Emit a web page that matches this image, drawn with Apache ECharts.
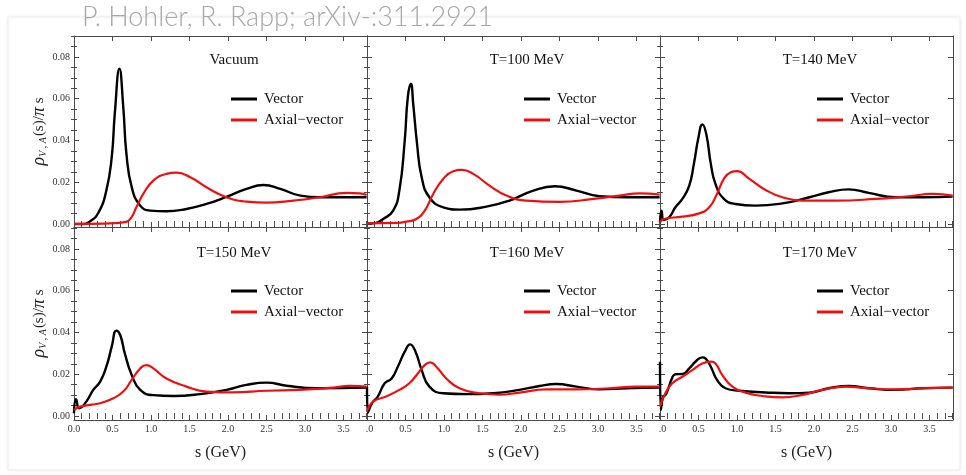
<!DOCTYPE html>
<html><head><meta charset="utf-8">
<script src="https://cdn.jsdelivr.net/npm/echarts@6/dist/echarts.min.js"></script>
<style>html,body{margin:0;padding:0;background:#fff}#c{width:966px;height:475px}</style>
</head><body><div id="c"></div>
<script>
// ---- data: s (GeV) sample positions and spectral values rho/(pi s) ----
const PANEL_TITLES = ['Vacuum', 'T=100 MeV', 'T=140 MeV', 'T=150 MeV', 'T=160 MeV', 'T=170 MeV'];
const SERIES_NAMES = ['Vector', 'Axial\u2212vector'];
const X_TICKS = [0, 0.5, 1.0, 1.5, 2.0, 2.5, 3.0, 3.5];
const Y_TICKS = [0, 0.02, 0.04, 0.06, 0.08];

const S_VAC_V = [0, 0.1, 0.21, 0.32, 0.42, 0.49, 0.53, 0.59, 0.64, 0.68, 0.75, 0.86, 0.99, 1.2, 1.46, 1.72, 1.98, 2.24, 2.46, 2.68, 2.94, 3.19, 3.8];
const VAC_V   = [0, 0, 0.0013, 0.0056, 0.016, 0.032, 0.053, 0.0744, 0.056, 0.034, 0.0176, 0.0088, 0.0064, 0.0061, 0.0072, 0.0096, 0.013, 0.0168, 0.0187, 0.0168, 0.0136, 0.0128, 0.0128];
const S_VAC_A = [0, 0.4, 0.64, 0.73, 0.81, 0.9, 1.03, 1.2, 1.33, 1.51, 1.72, 1.98, 2.24, 2.5, 2.85, 3.19, 3.54, 3.71, 3.8];
const VAC_A   = [0, 0.0002, 0.0008, 0.0024, 0.008, 0.0144, 0.0208, 0.024, 0.0246, 0.0224, 0.0176, 0.0128, 0.0107, 0.0102, 0.0112, 0.0128, 0.0149, 0.0147, 0.0139];

const S_T100_V = [0, 0.1, 0.21, 0.34, 0.42, 0.49, 0.53, 0.57, 0.6, 0.65, 0.71, 0.81, 0.99, 1.2, 1.55, 1.85, 2.16, 2.44, 2.72, 3.02, 3.37, 3.8];
const T100_V   = [0.0003, 0.0004, 0.0024, 0.0064, 0.016, 0.04, 0.0608, 0.0672, 0.0576, 0.0384, 0.0224, 0.0128, 0.008, 0.0069, 0.0083, 0.0112, 0.016, 0.0181, 0.016, 0.0133, 0.0128, 0.0128];
const S_T100_A = [0, 0.4, 0.51, 0.64, 0.75, 0.86, 0.99, 1.12, 1.23, 1.38, 1.59, 1.81, 2.07, 2.5, 2.94, 3.28, 3.54, 3.8];
const T100_A   = [0.0003, 0.0005, 0.0011, 0.0024, 0.0064, 0.0144, 0.0216, 0.0253, 0.0259, 0.024, 0.0184, 0.0136, 0.0112, 0.0106, 0.012, 0.0136, 0.0147, 0.0141];

const S_T140_V = [0, 0.02, 0.05, 0.12, 0.2, 0.29, 0.38, 0.44, 0.5, 0.55, 0.6, 0.66, 0.72, 0.83, 0.98, 1.24, 1.59, 1.94, 2.19, 2.45, 2.71, 3.06, 3.41, 3.8];
const T140_V   = [0.0008, 0.0064, 0.0019, 0.0032, 0.008, 0.012, 0.0184, 0.0288, 0.0416, 0.0477, 0.0432, 0.0288, 0.0192, 0.012, 0.0096, 0.0088, 0.0099, 0.0128, 0.0152, 0.0166, 0.0149, 0.0128, 0.0128, 0.0131];
const S_T140_A = [0, 0.05, 0.29, 0.51, 0.64, 0.74, 0.83, 0.92, 1.0, 1.16, 1.37, 1.59, 1.85, 2.28, 2.8, 3.23, 3.54, 3.8];
const T140_A   = [0.0008, 0.0024, 0.0035, 0.0051, 0.008, 0.0144, 0.0216, 0.0248, 0.0253, 0.0216, 0.0163, 0.0128, 0.0112, 0.0112, 0.012, 0.0133, 0.0144, 0.0136];

const S_T150_V = [0, 0.026, 0.07, 0.16, 0.25, 0.34, 0.42, 0.49, 0.55, 0.6, 0.66, 0.75, 0.86, 1.03, 1.29, 1.64, 1.98, 2.24, 2.5, 2.76, 3.15, 3.8];
const T150_V   = [0.0013, 0.008, 0.0037, 0.0069, 0.0125, 0.0165, 0.0236, 0.0332, 0.0409, 0.0388, 0.03, 0.0196, 0.0125, 0.01, 0.0096, 0.0105, 0.0125, 0.0149, 0.016, 0.0145, 0.0133, 0.0136];
const S_T150_A = [0, 0.08, 0.34, 0.51, 0.64, 0.75, 0.86, 0.94, 1.03, 1.2, 1.46, 1.72, 2.07, 2.5, 2.94, 3.37, 3.58, 3.8];
const T150_A   = [0.0029, 0.0045, 0.0061, 0.0085, 0.0117, 0.0173, 0.0228, 0.0244, 0.0228, 0.018, 0.0141, 0.0117, 0.0113, 0.0121, 0.0125, 0.0136, 0.0144, 0.0141];

const S_T160_V = [0, 0.01, 0.07, 0.14, 0.23, 0.32, 0.4, 0.49, 0.56, 0.63, 0.71, 0.81, 0.99, 1.29, 1.64, 1.98, 2.24, 2.46, 2.72, 3.02, 3.37, 3.8];
const T160_V   = [0.014, 0.0016, 0.0064, 0.0093, 0.0157, 0.018, 0.0236, 0.0308, 0.0343, 0.0308, 0.022, 0.0141, 0.0109, 0.0105, 0.0109, 0.0125, 0.0144, 0.0153, 0.0141, 0.0128, 0.0133, 0.0136];
const S_T160_A = [0, 0.08, 0.25, 0.42, 0.55, 0.66, 0.75, 0.82, 0.9, 1.03, 1.2, 1.46, 1.72, 1.98, 2.33, 2.72, 3.15, 3.5, 3.8];
const T160_A   = [0.0021, 0.0069, 0.0093, 0.0125, 0.0157, 0.0204, 0.0244, 0.0257, 0.0236, 0.018, 0.0133, 0.0109, 0.0102, 0.0112, 0.0128, 0.0128, 0.0133, 0.0141, 0.0141];

const S_T170_V = [0, 0.012, 0.04, 0.08, 0.16, 0.2, 0.29, 0.38, 0.46, 0.55, 0.59, 0.66, 0.74, 0.85, 1.03, 1.37, 1.68, 1.94, 2.19, 2.45, 2.71, 3.06, 3.41, 3.8];
const T170_V   = [0.026, 0.003, 0.009, 0.0105, 0.0185, 0.02, 0.0201, 0.0228, 0.026, 0.0281, 0.0276, 0.0236, 0.0173, 0.0133, 0.0121, 0.0113, 0.0109, 0.0112, 0.0133, 0.0144, 0.0133, 0.0125, 0.0133, 0.0136];
const S_T170_A = [0, 0.07, 0.16, 0.29, 0.42, 0.55, 0.66, 0.72, 0.81, 0.94, 1.11, 1.33, 1.59, 1.85, 2.11, 2.41, 2.71, 3.06, 3.41, 3.8];
const T170_A   = [0.0045, 0.0109, 0.0157, 0.0188, 0.022, 0.0252, 0.026, 0.0252, 0.0196, 0.0141, 0.0112, 0.0096, 0.0089, 0.0101, 0.0125, 0.0141, 0.0133, 0.0128, 0.0133, 0.0136];

const VEC_S = [S_VAC_V, S_T100_V, S_T140_V, S_T150_V, S_T160_V, S_T170_V];
const VEC_Y = [VAC_V, T100_V, T140_V, T150_V, T160_V, T170_V];
const AX_S  = [S_VAC_A, S_T100_A, S_T140_A, S_T150_A, S_T160_A, S_T170_A];
const AX_Y  = [VAC_A, T100_A, T140_A, T150_A, T160_A, T170_A];

// ---- layout ----
const SERIF = '"Liberation Serif","DejaVu Serif",serif';
const FRAME = '#4a4a4a';
const COL_LEFT = [74, 367, 660], COL_W = 293;
const ROW_TOP = [36, 227], ROW_H = [191, 193];
const Y_MIN = [-0.00144, -0.0019], Y_MAX = [0.09006, 0.0905];
const X_MAX = 3.805;

const minorX = [];
for (let i = 1; i <= 38; i++) if (i % 5 !== 0) minorX.push(i / 10);
const minorY = [];
for (let i = 1; i <= 18; i++) if (i % 4 !== 0) minorY.push(i * 5 / 1000);

const zip = (a, b) => a.map((v, i) => [v, b[i]]);
const grids = [], xAxes = [], yAxes = [], series = [], legends = [], titles = [];

titles.push({text: 'P. Hohler, R. Rapp; arXiv-:311.2921', left: 77, top: -1,
  textStyle: {fontFamily: 'Lato', fontWeight: 300, fontSize: 27, color: '#a8a8a8'}});

for (let i = 0; i < 6; i++) {
  const r = Math.floor(i / 3), c = i % 3;
  grids.push({left: COL_LEFT[c], top: ROW_TOP[r], width: COL_W, height: ROW_H[r], containLabel: false});
  const xBase = xAxes.length;
  ['bottom', 'top'].forEach((pos, k) => {
    const labelShow = (pos === 'bottom' && r === 1);
    xAxes.push({gridIndex: i, type: 'value', min: 0, max: X_MAX, position: pos,
      axisLine: {show: true, onZero: false, lineStyle: {color: FRAME, width: 1}},
      axisTick: {show: true, inside: true, length: 5, customValues: X_TICKS, lineStyle: {color: FRAME}},
      axisLabel: {show: labelShow, customValues: X_TICKS, margin: 4, fontFamily: SERIF, fontSize: 10, color: '#333',
        formatter: v => (c > 0 && v === 0) ? '{h|0}.0' : v.toFixed(1),
        rich: {h: {color: 'rgba(0,0,0,0)', fontFamily: SERIF, fontSize: 10}}},
      splitLine: {show: false},
      name: labelShow ? 's (GeV)' : '', nameLocation: 'middle', nameGap: 25,
      nameTextStyle: {fontFamily: SERIF, fontSize: 16, color: '#222'}});
    xAxes.push({gridIndex: i, type: 'value', min: 0, max: X_MAX, position: pos,
      axisLine: {show: false}, axisLabel: {show: false}, splitLine: {show: false},
      axisTick: {show: true, inside: true, length: 3, customValues: minorX, lineStyle: {color: FRAME}}});
  });
  const yBase = yAxes.length;
  ['left', 'right'].forEach(pos => {
    const labelShow = (pos === 'left' && c === 0);
    yAxes.push({gridIndex: i, type: 'value', min: Y_MIN[r], max: Y_MAX[r], position: pos,
      axisLine: {show: true, onZero: false, lineStyle: {color: FRAME, width: 1}},
      axisTick: {show: true, inside: true, length: 5, customValues: Y_TICKS, lineStyle: {color: FRAME}},
      axisLabel: {show: labelShow, customValues: Y_TICKS, margin: 4, fontFamily: SERIF, fontSize: 10, color: '#333',
        formatter: v => v.toFixed(2)},
      splitLine: {show: false},
      name: labelShow ? '{i|\u03C1}{sub|V , A}(s)/{i|\u03C0} s' : '', nameLocation: 'middle', nameGap: 26, nameRotate: 90,
      nameTextStyle: {fontFamily: SERIF, fontSize: 15, color: '#222',
        rich: {i: {fontFamily: SERIF, fontStyle: 'italic', fontSize: 18, color: '#222'},
               sub: {fontFamily: SERIF, fontStyle: 'italic', fontSize: 10, color: '#222', verticalAlign: 'bottom', padding: [6, 1, 0, 0]}}}});
    yAxes.push({gridIndex: i, type: 'value', min: Y_MIN[r], max: Y_MAX[r], position: pos,
      axisLine: {show: false}, axisLabel: {show: false}, splitLine: {show: false},
      axisTick: {show: true, inside: true, length: 3, customValues: minorY, lineStyle: {color: FRAME}}});
  });
  series.push({type: 'line', name: SERIES_NAMES[0], xAxisIndex: xBase, yAxisIndex: yBase,
    data: zip(VEC_S[i], VEC_Y[i]), showSymbol: false, smooth: 0.5,
    color: '#000', lineStyle: {color: '#000', width: 2.4}, z: 3});
  series.push({type: 'line', name: SERIES_NAMES[1], xAxisIndex: xBase, yAxisIndex: yBase,
    data: zip(AX_S[i], AX_Y[i]), showSymbol: false, smooth: 0.5,
    color: '#ee1010', lineStyle: {color: '#ee1010', width: 2.2}, z: 4});
  legends.push({data: SERIES_NAMES, orient: 'vertical', left: COL_LEFT[c] + 157, top: r === 0 ? 91 : 283,
    icon: 'rect', itemWidth: 26, itemHeight: 3, itemGap: 5, padding: 0, selectedMode: false,
    textStyle: {fontFamily: SERIF, fontSize: 15, lineHeight: 16, color: '#111', padding: [0, 0, 0, 2]}});
  titles.push({text: PANEL_TITLES[i], left: COL_LEFT[c] + 155, top: r === 0 ? 48 : 241, textAlign: 'center',
    textStyle: {fontFamily: SERIF, fontSize: 15, fontWeight: 'normal', color: '#111'}});
}

const chart = echarts.init(document.getElementById('c'), null, {renderer: 'canvas'});
chart.setOption({
  animation: false,
  backgroundColor: '#fff',
  graphic: [{type: 'rect', z: -10, shape: {x: 8, y: 17, width: 952, height: 453},
    style: {fill: '#fff', stroke: '#ececec', lineWidth: 1, shadowBlur: 4, shadowColor: 'rgba(0,0,0,0.06)'}}],
  title: titles,
  legend: legends,
  grid: grids,
  xAxis: xAxes,
  yAxis: yAxes,
  series: series
});
</script>
</body></html>
